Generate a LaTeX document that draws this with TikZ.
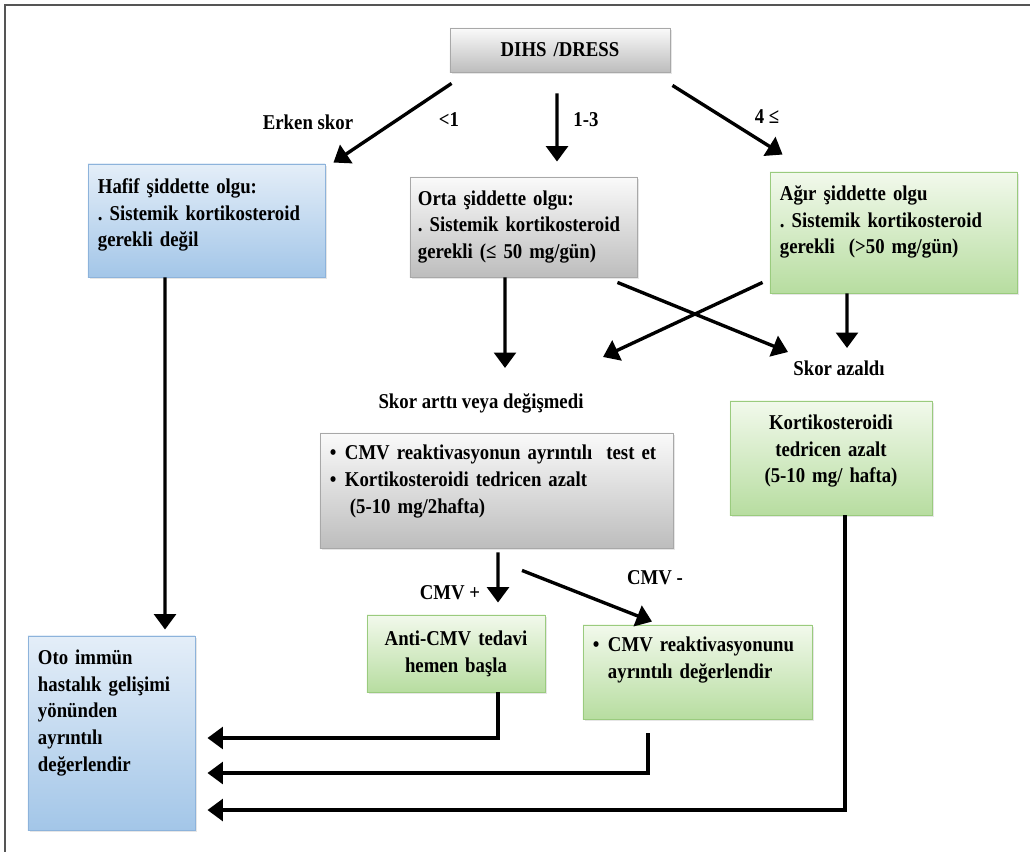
\documentclass[tikz,border=0pt]{standalone}
\usepackage{fontspec}
\setmainfont[FakeStretch=0.89]{Liberation Serif}
\usetikzlibrary{arrows.meta,shadows}
\definecolor{graytop}{HTML}{FAFAFA}
\definecolor{graybot}{HTML}{BDBDBD}
\definecolor{grayline}{HTML}{A8A8A8}
\definecolor{bluetop}{HTML}{E4EEF8}
\definecolor{bluebot}{HTML}{A3C6E8}
\definecolor{blueline}{HTML}{8DB3DB}
\definecolor{greentop}{HTML}{F2F9EC}
\definecolor{greenbot}{HTML}{B7DDA0}
\definecolor{greenline}{HTML}{9ACB7E}
\definecolor{framegray}{HTML}{555555}
\newcommand{\blt}{\makebox[0.375cm][l]{•}}
\newcommand{\lift}[1]{\rule[-#1]{0pt}{#1}}
\frenchspacing
\begin{document}
\begin{tikzpicture}[x=0.025cm,y=-0.025cm,
        font=\fontsize{15}{19}\selectfont\bfseries,
        box/.style={draw=#1, line width=0.6pt, inner xsep=0.25cm, inner ysep=2pt,
            drop shadow={opacity=0.2, shadow xshift=1.5pt, shadow yshift=-1.5pt}},
        graybox/.style={box=grayline, top color=graytop, bottom color=graybot},
        bluebox/.style={box=blueline, top color=bluetop, bottom color=bluebot},
        greenbox/.style={box=greenline, top color=greentop, bottom color=greenbot},
        arr/.style={line width=2.4pt, -{Triangle[length=11pt,width=15.5pt]}}]
        \useasboundingbox (0,0) rectangle (1030,852);
        \draw[framegray, line width=1.4pt] (5,852) -- (5,5) -- (1030,5);
        \node[graybox, minimum width=5.5cm, minimum height=1.1cm, text width=5cm, align=center] (dress) at (560,50) {DIHS /DRESS};
        \node[bluebox, minimum width=5.925cm, minimum height=2.825cm, text width=5.425cm, align=left] (hafif) at (206.5,220.5)
          {Hafif şiddette olgu:\\. Sistemik kortikosteroid\\gerekli değil\lift{11pt}};
        \node[graybox, minimum width=5.675cm, minimum height=2.5cm, inner xsep=0.2cm, text width=5.275cm, align=left] (orta) at (523.5,227)
          {Orta şiddette olgu:\\. Sistemik kortikosteroid\\gerekli (≤ 50 mg/gün)};
        \node[greenbox, minimum width=6.175cm, minimum height=3.025cm, text width=5.675cm, align=left] (agir) at (893.5,232.5)
          {Ağır şiddette olgu\\. Sistemik kortikosteroid\\gerekli\ \ (>50 mg/gün)\lift{18pt}};
        \node[graybox, minimum width=8.825cm, minimum height=2.875cm, text width=8.325cm, align=left] (tedavi) at (496.5,490.5)
          {\blt CMV reaktivasyonun ayrıntılı\ \ test et\\\blt Kortikosteroidi tedricen azalt\\\hspace*{0.5cm}(5-10 mg/2hafta)\lift{16pt}};
        \node[greenbox, minimum width=5.05cm, minimum height=2.85cm, text width=4.55cm, align=center] (azalt) at (831,458)
          {Kortikosteroidi\\tedricen azalt\\(5-10 mg/ hafta)\lift{13pt}};
        \node[greenbox, minimum width=4.45cm, minimum height=1.925cm, text width=3.95cm, align=center] (anticmv) at (456,653.5)
          {Anti-CMV tedavi\\hemen başla};
        \node[greenbox, minimum width=5.725cm, minimum height=2.35cm, text width=5.225cm, align=left] (reakt) at (697.5,672)
          {\blt CMV reaktivasyonunu\\\hspace*{0.375cm}ayrıntılı değerlendir\lift{20pt}};
        \node[bluebox, minimum width=4.175cm, minimum height=4.85cm, text width=3.675cm, align=left] (oto) at (111.5,733)
          {Oto immün\\hastalık gelişimi\\yönünden\\ayrıntılı\\değerlendir\lift{32pt}};
        \node (erken) at (308,122) {Erken skor};
        \node (lone) at (449,120) {<1};
        \node (lthree) at (586,120) {1-3};
        \node (lfour) at (767,117) {4 ≤};
        \node (artti) at (481,403) {Skor arttı veya değişmedi};
        \node (azaldi) at (839,368) {Skor azaldı};
        \node (cmvplus) at (450,593) {CMV +};
        \node (cmvminus) at (655,578) {CMV -};
        \draw[arr] ([xshift=0.05cm,yshift=-0.275cm]dress.south west) -- ([xshift=0.2cm,yshift=0.025cm]hafif.north east);
        \draw[arr] ([xshift=-0.075cm,yshift=-0.525cm]dress.south) -- ([xshift=0.8375cm,yshift=0.375cm]orta.north);
        \draw[arr] ([xshift=0.05cm,yshift=-0.325cm]dress.south east) -- ([xshift=0.325cm,yshift=0.425cm]agir.north west);
        \draw[arr] ([xshift=-1.0375cm]hafif.south) -- ([xshift=1.3375cm,yshift=0.15cm]oto.north);
        \draw[arr] ([xshift=-0.4625cm]orta.south) -- ([xshift=0.6cm,yshift=0.875cm]artti.center);
        \draw[arr] ([xshift=-0.5cm,yshift=-0.125cm]orta.south east) -- ([xshift=-1.275cm,yshift=0.4cm]azaldi.center);
        \draw[arr] ([xshift=-0.175cm,yshift=0.275cm]agir.south west) -- ([xshift=3.05cm,yshift=1.15cm]artti.center);
        \draw[arr] ([xshift=-1.1625cm]agir.south) -- ([xshift=0.2cm,yshift=0.5cm]azaldi.center);
        \draw[arr] ([xshift=0.0375cm,yshift=-0.1cm]tedavi.south) -- ([xshift=1.05cm,yshift=0.3cm]anticmv.north);
        \draw[arr] ([xshift=0.6375cm,yshift=-0.55cm]tedavi.south) -- ([xshift=-1.1375cm,yshift=0.075cm]reakt.north);
        \draw[arr] ([xshift=1.05cm]anticmv.south) |- ([xshift=0.3cm,yshift=-0.125cm]oto.east);
        \draw[arr] ([xshift=-1.2375cm,yshift=-0.35cm]reakt.south) |- ([xshift=0.3cm,yshift=-1cm]oto.east);
        \draw[arr] ([xshift=0.35cm]azalt.south) |- ([xshift=0.3cm,yshift=-1.925cm]oto.east);
\end{tikzpicture}
\end{document}
